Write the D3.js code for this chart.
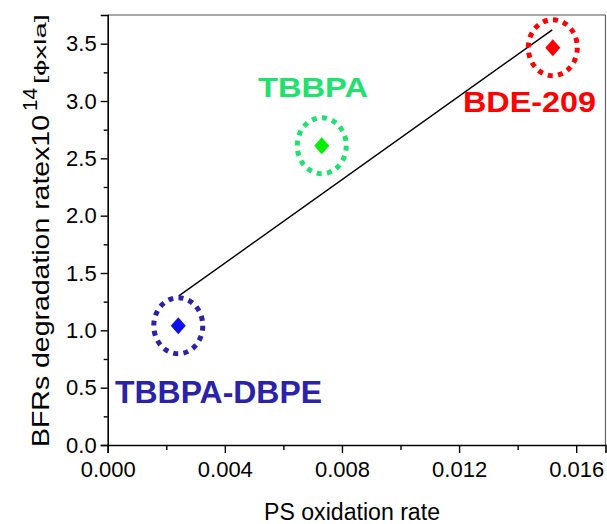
<!DOCTYPE html>
<html><head><meta charset="utf-8">
<script src="https://cdn.jsdelivr.net/npm/d3@7"></script>
<style>body{margin:0;background:#fff}svg{display:block}text{font-family:"Liberation Sans",Arial,sans-serif}</style>
</head><body>
<script>
const names = ["TBBPA-DBPE", "TBBPA", "BDE-209"];
const psRate = [0.00241, 0.00731, 0.0152];
const bfrRate = [1.04, 2.61, 3.465];
const pointColors = ["#1010e8", "#00ee00", "#ff0000"];
const ringColors = ["#2a22a8", "#22e070", "#ff0000"];
const fitX = [0.00243, 0.01518];
const fitY = [1.30, 3.62];
const xTicks = [0, 0.004, 0.008, 0.012, 0.016];
const xMinor = [0.002, 0.006, 0.010, 0.014];
const yTicks = [0, 0.5, 1.0, 1.5, 2.0, 2.5, 3.0, 3.5];
const yMinor = [0.25, 0.75, 1.25, 1.75, 2.25, 2.75, 3.25];

const W = 607, H = 524;
const m = {l: 107.7, r: 605.5, t: 15, b: 445};
const svg = d3.select("body").append("svg").attr("width", W).attr("height", H);
const x = d3.scaleLinear().domain([0, 0.017]).range([m.l, m.r]);
const y = d3.scaleLinear().domain([0, 3.75]).range([m.b, m.t]);

// frame top/right
svg.append("line").attr("x1", m.l).attr("x2", m.r).attr("y1", m.t).attr("y2", m.t).attr("stroke", "#555").attr("stroke-width", 1.2);
svg.append("line").attr("x1", m.r).attr("x2", m.r).attr("y1", m.t).attr("y2", m.b).attr("stroke", "#666").attr("stroke-width", 1.2);

svg.append("g").attr("transform", `translate(0,${m.b})`)
  .call(d3.axisBottom(x).tickValues(xTicks).tickFormat(d3.format(".3f")).tickSize(8).tickPadding(8));
svg.append("g").attr("transform", `translate(0,${m.b})`)
  .call(d3.axisBottom(x).tickValues(xMinor).tickFormat("").tickSize(5)).select(".domain").remove();
svg.append("g").attr("transform", `translate(${m.l},0)`)
  .call(d3.axisLeft(y).tickValues(yTicks).tickFormat(d3.format(".1f")).tickSize(7).tickPadding(4));
svg.append("g").attr("transform", `translate(${m.l},0)`)
  .call(d3.axisLeft(y).tickValues(yMinor).tickFormat("").tickSize(4)).select(".domain").remove();
svg.selectAll(".domain").attr("stroke", "#000").attr("stroke-width", 1.6);
svg.selectAll(".tick line").attr("stroke", "#000").attr("stroke-width", 1.4);
svg.selectAll(".tick text").attr("font-size", 22).attr("fill", "#000").attr("font-family", "Liberation Sans, Arial, sans-serif");

// axis titles
svg.append("text").attr("x", 352).attr("y", 520).attr("text-anchor", "middle")
  .attr("font-size", 23).attr("textLength", 176).attr("lengthAdjust", "spacingAndGlyphs").text("PS oxidation rate");
const yg = svg.append("g").attr("transform", "translate(49,0) rotate(-90)");
yg.append("text").attr("x", -447).attr("y", 0).attr("font-size", 24)
  .attr("textLength", 332).attr("lengthAdjust", "spacingAndGlyphs").text("BFRs degradation ratex10");
yg.append("text").attr("x", -111).attr("y", -12).attr("font-size", 21)
  .attr("textLength", 23).attr("lengthAdjust", "spacingAndGlyphs").text("14");
yg.append("text").attr("x", -84).attr("y", -3).attr("font-size", 17)
  .attr("textLength", 70).attr("lengthAdjust", "spacingAndGlyphs").text("[ϕxla]");

// fit line
svg.append("line").attr("x1", x(fitX[0])).attr("y1", y(fitY[0])).attr("x2", x(fitX[1])).attr("y2", y(fitY[1]))
  .attr("stroke", "#000").attr("stroke-width", 1.4);

const idx = d3.range(names.length);
// rings
svg.selectAll("ellipse.ring").data(idx).join("ellipse").attr("class", "ring")
  .attr("cx", i => x(psRate[i])).attr("cy", i => y(bfrRate[i]))
  .attr("rx", 24.5).attr("ry", 28)
  .attr("fill", "none").attr("stroke", i => ringColors[i]).attr("stroke-width", 5)
  .attr("stroke-dasharray", "5 5.3");
// diamonds
const dp = d3.path();
dp.moveTo(0, -8.5); dp.lineTo(7.5, 0); dp.lineTo(0, 8.5); dp.lineTo(-7.5, 0); dp.closePath();
svg.selectAll("path.pt").data(idx).join("path").attr("class", "pt")
  .attr("transform", i => `translate(${x(psRate[i])},${y(bfrRate[i])})`)
  .attr("d", dp.toString())
  .attr("fill", i => pointColors[i]);

// labels
const labelPos = [[115, 403, 32, 207], [258, 97, 28, 110], [463, 112, 30, 133]];
svg.selectAll("text.lab").data(idx).join("text").attr("class", "lab")
  .attr("x", i => labelPos[i][0]).attr("y", i => labelPos[i][1]).attr("font-size", i => labelPos[i][2])
  .attr("textLength", i => labelPos[i][3]).attr("lengthAdjust", "spacingAndGlyphs")
  .attr("font-weight", "bold").attr("fill", i => ringColors[i]).text(i => names[i]);
</script>
</body></html>
